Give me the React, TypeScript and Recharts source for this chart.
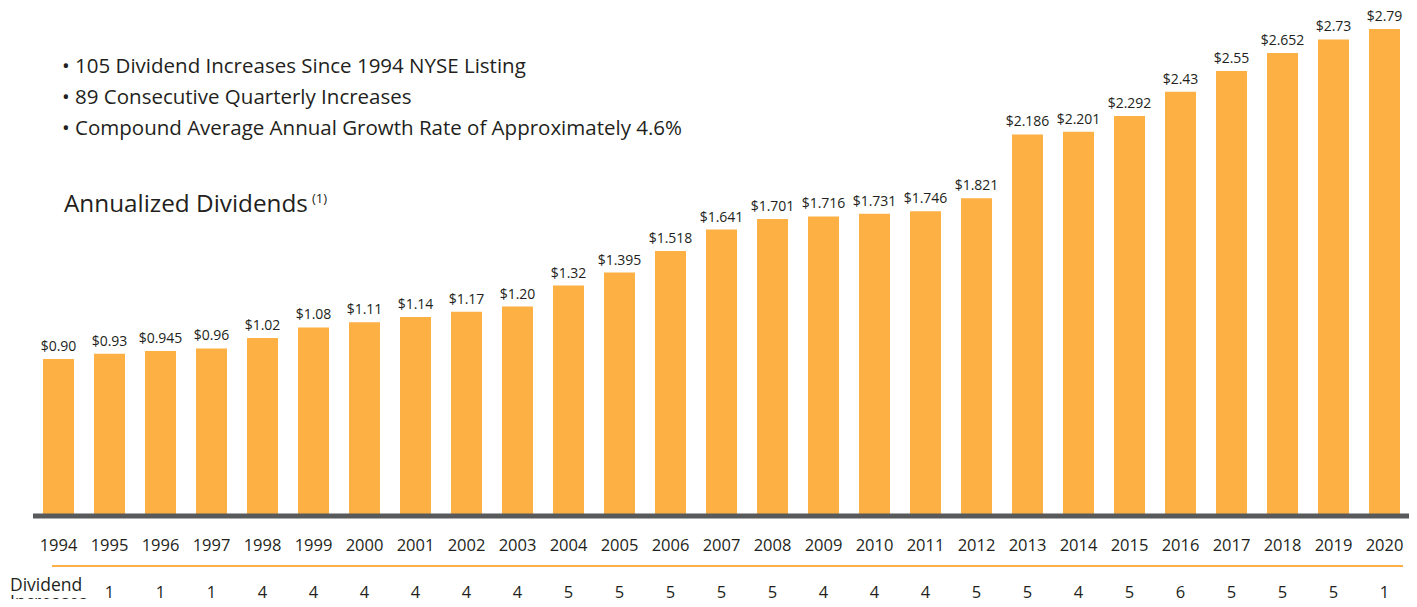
import { ComposedChart, Bar, XAxis, YAxis, LabelList } from 'recharts';

const years = [
  '1994', '1995', '1996', '1997', '1998', '1999', '2000', '2001', '2002',
  '2003', '2004', '2005', '2006', '2007', '2008', '2009', '2010', '2011',
  '2012', '2013', '2014', '2015', '2016', '2017', '2018', '2019', '2020',
];

const dividends = [
  0.9, 0.93, 0.945, 0.96, 1.02, 1.08, 1.11, 1.14, 1.17, 1.2, 1.32, 1.395, 1.518,
  1.641, 1.701, 1.716, 1.731, 1.746, 1.821, 2.186, 2.201, 2.292, 2.43, 2.55,
  2.652, 2.73, 2.79,
];

const dividendLabels = [
  '$0.90', '$0.93', '$0.945', '$0.96', '$1.02', '$1.08', '$1.11', '$1.14', '$1.17',
  '$1.20', '$1.32', '$1.395', '$1.518', '$1.641', '$1.701', '$1.716', '$1.731', '$1.746',
  '$1.821', '$2.186', '$2.201', '$2.292', '$2.43', '$2.55', '$2.652', '$2.73', '$2.79',
];

// 1994 has no count, the row label sits under it
const increases = [
  null, 1, 1, 1, 4, 4, 4, 4, 4, 4, 5, 5, 5, 5, 5, 4, 4, 4, 5, 5, 4, 5, 6, 5, 5, 5, 1,
];

const bullets = [
  '105 Dividend Increases Since 1994 NYSE Listing',
  '89 Consecutive Quarterly Increases',
  'Compound Average Annual Growth Rate of Approximately 4.6%',
];

const FONT = '"Open Sans", sans-serif';
const ORANGE = '#FDB043';

const data = years.map((y, i) => ({
  year: y,
  value: dividends[i],
  label: dividendLabels[i],
  inc: increases[i],
}));

const YearTick = (props: any) => {
  const { x, y, payload, index } = props;
  const inc = increases[index];
  return (
    <g>
      <text x={x} y={y + 27} textAnchor="middle" fontSize={16.5} fill="#231f20" fontFamily={FONT}>
        {payload.value}
      </text>
      {inc != null && (
        <text x={x} y={y + 74} textAnchor="middle" fontSize={16.5} fill="#231f20" fontFamily={FONT}>
          {inc}
        </text>
      )}
    </g>
  );
};

export default function App() {
  return (
    <div style={{ position: 'relative', width: 1417, height: 607, margin: -8, background: '#fff', overflow: 'hidden', fontFamily: FONT, color: '#231f20' }}>
      <ComposedChart
        width={1417}
        height={607}
        data={data}
        margin={{ top: 29, right: 7, left: 33, bottom: 0 }}
        barCategoryGap={0}
      >
        <XAxis
          dataKey="year"
          height={91}
          tickLine={false}
          axisLine={{ stroke: '#58595b', strokeWidth: 5 }}
          tick={<YearTick />}
          interval={0}
        />
        <YAxis hide domain={[0, 2.79]} />
        <Bar dataKey="value" fill={ORANGE} barSize={31} isAnimationActive={false}>
          <LabelList dataKey="label" position="top" offset={8} fontSize={14} fill="#231f20" fontFamily={FONT} />
        </Bar>
      </ComposedChart>

      <div style={{ position: 'absolute', left: 62, top: 50, fontSize: 20.5, lineHeight: '31px' }}>
        {bullets.map((b) => (
          <div key={b}>• {b}</div>
        ))}
      </div>

      <div style={{ position: 'absolute', left: 64, top: 186, fontSize: 24.3 }}>
        Annualized Dividends
        <sup style={{ fontSize: 13, marginLeft: 4 }}>(1)</sup>
      </div>

      <div style={{ position: 'absolute', left: 52, top: 565, width: 1351, height: 2, background: ORANGE }} />

      <div style={{ position: 'absolute', left: 10, top: 576, fontSize: 17.5, lineHeight: '17px' }}>
        Dividend
        <br />
        Increases
      </div>
    </div>
  );
}
